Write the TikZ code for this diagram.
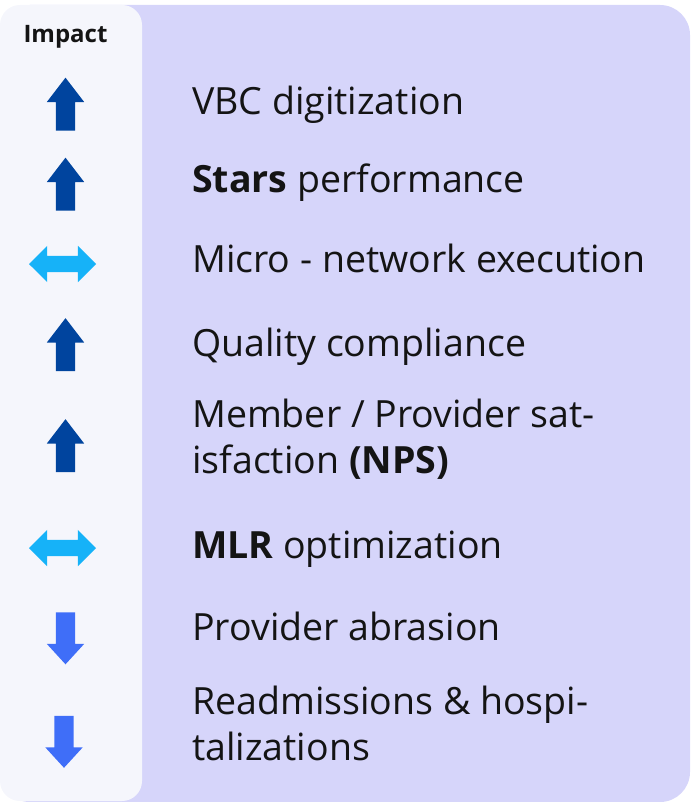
\documentclass[tikz,border=0pt]{standalone}
\usepackage{fontspec}
\setmainfont{Open Sans}
\usepackage{tikz}
\usetikzlibrary{shapes.arrows}
\definecolor{cardpurple}{HTML}{D6D5FA}
\definecolor{panelgrey}{HTML}{F5F6FC}
\definecolor{upblue}{HTML}{00449E}
\definecolor{sidecyan}{HTML}{16B2F8}
\definecolor{downblue}{HTML}{3F6EF8}
\definecolor{inkblack}{HTML}{141414}
\tikzset{
  itemtext/.style = {anchor=base west, inner sep=0pt, align=left, text=inkblack,
    font=\fontsize{37.5}{46}\selectfont},
  impacttext/.style = {inner sep=0pt, text=inkblack,
    font=\fontsize{24}{28}\selectfont\bfseries},
  arrowshape/.style = {single arrow, draw=none, inner xsep=0pt,
    inner ysep=9.5pt, single arrow head extend=9pt},
  uparrow/.style = {arrowshape, fill=upblue, single arrow tip angle=75,
    minimum height=53pt, rotate=90},
  downarrow/.style = {arrowshape, fill=downblue, single arrow tip angle=85,
    minimum height=52pt, rotate=-90},
  sidearrow/.style = {double arrow, draw=none, fill=sidecyan, inner xsep=0pt,
    inner ysep=8pt, double arrow head extend=10pt, double arrow tip angle=90,
    minimum height=67pt}
}
\begin{document}
\begin{tikzpicture}[x=1pt, y=-1pt]
  \useasboundingbox (0,0) rectangle (690,802);
  % card and impact column
  \fill[cardpurple, rounded corners=30pt] (0,5) rectangle (690,802);
  \fill[panelgrey, rounded corners=20pt] (0,5) rectangle (142,801);

  \node [impacttext] (impact) at (65.5,37) {Impact};

  % impact arrows
  \node [uparrow] (vbcarrow) at (65.5,110.5) {};
  \node [uparrow] (starsarrow) at (65.5,190.5) {};
  \node [sidearrow] (microarrow) at (62.5,264) {};
  \node [uparrow] (qualityarrow) at (65.5,351) {};
  \node [uparrow] (npsarrow) at (65.5,452) {};
  \node [sidearrow] (mlrarrow) at (62.5,548) {};
  \node [downarrow] (abrasionarrow) at (65.5,633) {};
  \node [downarrow] (readmitarrow) at (64,736.5) {};

  % items (two-line items sit on the baseline of their last line)
  \node [itemtext] (vbc) at (192,115) {VBC digitization};
  \node [itemtext] (stars) at (192,193) {\textbf{Stars} performance};
  \node [itemtext] (micro) at (192,272) {Micro - network execution};
  \node [itemtext] (quality) at (192,356) {Quality compliance};
  \node [itemtext] (nps) at (192,473) {Member / Provider sat-\\isfaction \textbf{(NPS)}};
  \node [itemtext] (mlr) at (192,558) {\textbf{MLR} optimization};
  \node [itemtext] (abrasion) at (192,640) {Provider abrasion};
  \node [itemtext] (readmit) at (192,760) {Readmissions \& hospi-\\talizations};
\end{tikzpicture}
\end{document}
